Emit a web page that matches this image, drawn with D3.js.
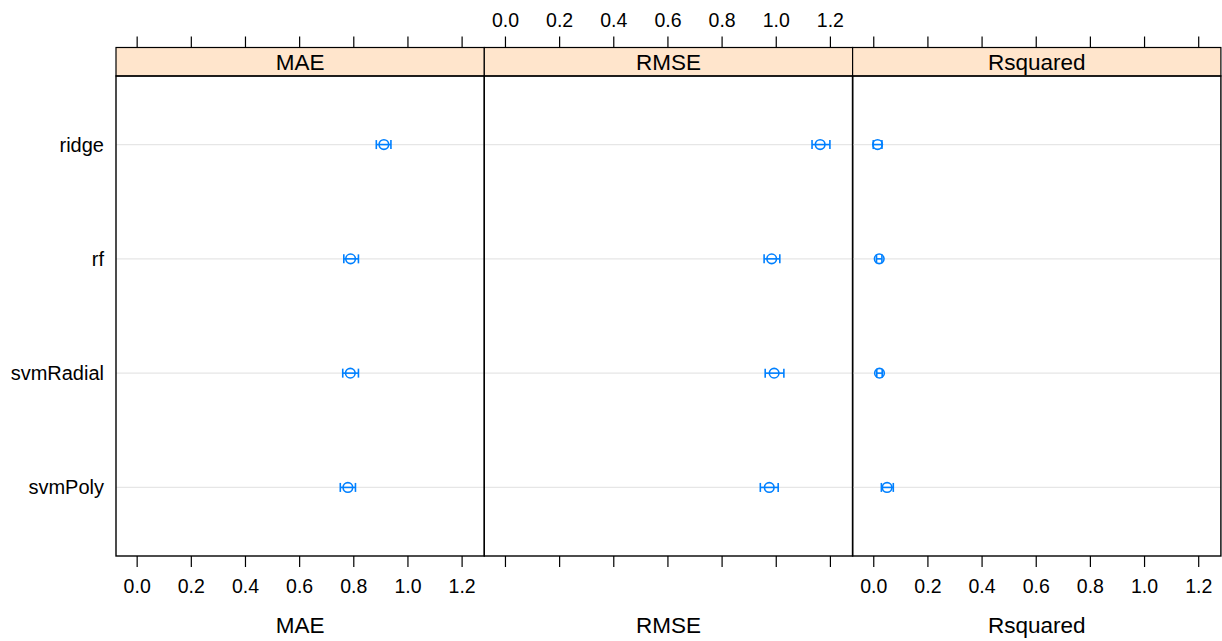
<!DOCTYPE html>
<html>
<head>
<meta charset="utf-8">
<script src="https://cdn.jsdelivr.net/npm/d3@7"></script>
<style>
  body { margin: 0; background: #fff; }
  text { font-family: "Liberation Sans", Arial, sans-serif; fill: #000; }
</style>
</head>
<body>
<div id="chart"></div>
<script>
// models top to bottom, metrics left to right
var models = ["ridge", "rf", "svmRadial", "svmPoly"]
var metrics = ["MAE", "RMSE", "Rsquared"]
var tickValues = [0, 0.2, 0.4, 0.6, 0.8, 1.0, 1.2]

// point estimate and confidence limits, one array per metric (same order as models)
var maeMean  = [0.913, 0.790, 0.789, 0.780]
var maeLower = [0.885, 0.765, 0.761, 0.752]
var maeUpper = [0.939, 0.819, 0.819, 0.808]

var rmseMean  = [1.164, 0.985, 0.994, 0.976]
var rmseLower = [1.134, 0.957, 0.961, 0.943]
var rmseUpper = [1.200, 1.015, 1.030, 1.009]

var rsqMean  = [0.016, 0.022, 0.023, 0.051]
var rsqLower = [0.000, 0.012, 0.013, 0.030]
var rsqUpper = [0.032, 0.032, 0.033, 0.074]

var series = [
  {metric: metrics[0], mean: maeMean, lower: maeLower, upper: maeUpper},
  {metric: metrics[1], mean: rmseMean, lower: rmseLower, upper: rmseUpper},
  {metric: metrics[2], mean: rsqMean, lower: rsqLower, upper: rsqUpper}
]

var width = 1222, height = 641
var left = 116, panelW = 368.3
var stripTop = 47.5, stripH = 28.5
var panelTop = stripTop + stripH, panelBottom = 556
var blue = "#0080ff"

var svg = d3.select("#chart").append("svg")
  .attr("width", width)
  .attr("height", height)

var y = d3.scalePoint()
  .domain(models)
  .range([panelTop, panelBottom])
  .padding(0.6)

// category labels on the left
svg.selectAll(".ylab")
  .data(models)
  .enter().append("text")
  .attr("class", "ylab")
  .attr("x", 104)
  .attr("y", function(d) { return y(d); })
  .attr("dy", "0.35em")
  .attr("text-anchor", "end")
  .style("font-size", "20px")
  .text(function(d) { return d; })

series.forEach(function(s, i) {
  var x0 = left + i * panelW
  var x = d3.scaleLinear().domain([-0.0763, 1.2838]).range([x0, x0 + panelW])
  var g = svg.append("g")

  // reference lines
  g.selectAll(".ref")
    .data(models)
    .enter().append("line")
    .attr("x1", x0).attr("x2", x0 + panelW)
    .attr("y1", function(d) { return y(d); })
    .attr("y2", function(d) { return y(d); })
    .style("stroke", "#e6e6e6")
    .style("stroke-width", 1.3)

  // strip
  g.append("rect")
    .attr("x", x0).attr("y", stripTop)
    .attr("width", panelW).attr("height", stripH)
    .style("fill", "#ffe5cc")
    .style("stroke", "#000")
    .style("stroke-width", 1.2)
  g.append("text")
    .attr("x", x0 + panelW / 2)
    .attr("y", stripTop + stripH / 2)
    .attr("dy", "0.36em")
    .attr("text-anchor", "middle")
    .style("font-size", "22.5px")
    .text(s.metric)

  // panel frame
  g.append("rect")
    .attr("x", x0).attr("y", panelTop)
    .attr("width", panelW).attr("height", panelBottom - panelTop)
    .style("fill", "none")
    .style("stroke", "#000")
    .style("stroke-width", 1.4)

  // axes: labels alternate between bottom (1st, 3rd) and top (2nd)
  var top = d3.axisTop(x).tickValues(tickValues).tickSize(11).tickPadding(10)
    .tickFormat(i === 1 ? d3.format(".1f") : "")
  var bottom = d3.axisBottom(x).tickValues(tickValues).tickSize(11).tickPadding(12)
    .tickFormat(i === 1 ? "" : d3.format(".1f"))

  var ta = g.append("g").attr("transform", "translate(0," + stripTop + ")").call(top)
  var ba = g.append("g").attr("transform", "translate(0," + panelBottom + ")").call(bottom)
  ;[ta, ba].forEach(function(a) {
    a.select(".domain").remove()
    a.selectAll(".tick line").style("stroke", "#000").style("stroke-width", 1.2)
    a.selectAll(".tick text").style("font-size", "19.5px").style("font-family", "Liberation Sans, Arial, sans-serif").attr("fill", "#000")
  })

  // axis title
  g.append("text")
    .attr("x", x0 + panelW / 2)
    .attr("y", 633)
    .attr("text-anchor", "middle")
    .style("font-size", "22.5px")
    .text(s.metric)

  // error bars and points
  var rows = models.map(function(m, j) {
    return {model: m, mean: s.mean[j], lower: s.lower[j], upper: s.upper[j]}
  })
  var pts = g.selectAll(".pt")
    .data(rows)
    .enter().append("g")
    .attr("class", "pt")
    .style("stroke", blue)
    .style("fill", "none")
    .style("stroke-width", 1.6)

  pts.append("line")
    .attr("x1", function(d) { return x(d.lower); })
    .attr("x2", function(d) { return x(d.upper); })
    .attr("y1", function(d) { return y(d.model); })
    .attr("y2", function(d) { return y(d.model); })
  pts.append("line")
    .attr("x1", function(d) { return x(d.lower); })
    .attr("x2", function(d) { return x(d.lower); })
    .attr("y1", function(d) { return y(d.model) - 4.5; })
    .attr("y2", function(d) { return y(d.model) + 4.5; })
  pts.append("line")
    .attr("x1", function(d) { return x(d.upper); })
    .attr("x2", function(d) { return x(d.upper); })
    .attr("y1", function(d) { return y(d.model) - 4.5; })
    .attr("y2", function(d) { return y(d.model) + 4.5; })
  pts.append("circle")
    .attr("cx", function(d) { return x(d.mean); })
    .attr("cy", function(d) { return y(d.model); })
    .attr("r", 4.8)
})
</script>
</body>
</html>
